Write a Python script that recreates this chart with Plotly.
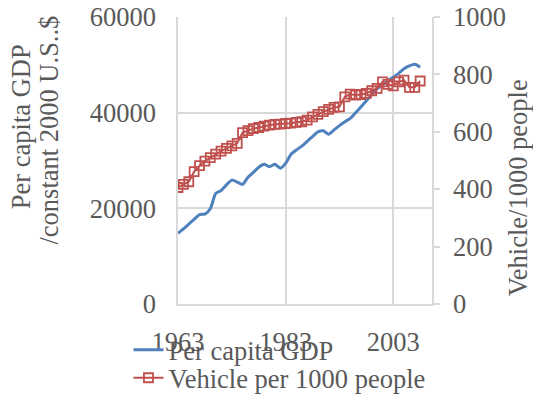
import plotly.graph_objects as go

years = list(range(1963, 2009))

gdp_per_capita = [
    14770, 15700, 16700, 17700, 18700, 18800, 19900, 23100, 23700, 24900,
    25900, 25500, 25000, 26500, 27500, 28600, 29200, 28700, 29200, 28400,
    29400, 31300, 32200, 33000, 34000, 35000, 36000, 36200, 35500, 36400,
    37300, 38100, 38800, 40000, 41200, 42500, 43800, 45000, 45800, 46700,
    47400, 48200, 49200, 49800, 50100, 49500,
]

vehicles_per_1000 = [
    406, 417, 426, 461, 482, 498, 510, 522, 533, 542,
    551, 560, 597, 604, 611, 615, 620, 623, 626, 627,
    629, 630, 633, 635, 641, 652, 661, 670, 678, 685,
    687, 722, 731, 728, 730, 734, 743, 751, 774, 765,
    760, 774, 780, 755, 755, 777,
]

x_ticks = [1963, 1983, 2003]
left_ticks = [0, 20000, 40000, 60000]
right_ticks = [0, 200, 400, 600, 800, 1000]

FONT = "Liberation Serif"
SIZE = 26.5
TEXT = "#595959"
GRID = "#d9d9d9"

fig = go.Figure()

fig.add_trace(go.Scatter(
    x=years, y=gdp_per_capita, name="Per capita GDP",
    mode="lines", line=dict(color="#4F81BD", width=3, shape="spline", smoothing=0.6),
    legend="legend",
))

fig.add_trace(go.Scatter(
    x=years, y=vehicles_per_1000, name="Vehicle per 1000 people",
    mode="lines+markers", yaxis="y2",
    line=dict(color="#C0504D", width=2),
    marker=dict(symbol="square-open", size=9, color="#C0504D", line=dict(width=1.8)),
    legend="legend2",
))

legend_style = dict(
    xanchor="left", yanchor="middle", orientation="v",
    bgcolor="rgba(0,0,0,0)", font=dict(family=FONT, size=SIZE, color=TEXT),
    itemwidth=30,
)

fig.update_layout(
    width=533, height=394,
    margin=dict(l=178, r=101, t=17, b=90, autoexpand=False),
    paper_bgcolor="white", plot_bgcolor="white",
    font=dict(family=FONT, size=SIZE, color=TEXT),
    showlegend=True,
    legend=dict(x=-0.195, y=-0.16, **legend_style),
    legend2=dict(x=-0.195, y=-0.258, **legend_style),
    xaxis=dict(
        range=[1963, 2010.2], tickvals=x_ticks,
        showgrid=True, gridcolor=GRID, gridwidth=1.5,
        showline=True, linecolor=GRID, linewidth=1.5,
        ticks="", ticklabelstandoff=13, zeroline=False,
    ),
    yaxis=dict(
        range=[0, 60000], tickvals=left_ticks, tickformat="d",
        showgrid=True, gridcolor=GRID, gridwidth=1.5,
        showline=True, linecolor=GRID, linewidth=1.5,
        ticks="", ticklabelstandoff=15, zeroline=False,
    ),
    yaxis2=dict(
        range=[0, 1000], tickvals=right_ticks, overlaying="y", side="right",
        showgrid=False, showline=True, linecolor=GRID, linewidth=1.5,
        ticks="outside", ticklen=6, tickcolor=GRID, tickwidth=1.5,
        ticklabelstandoff=8, zeroline=False,
    ),
)

title_font = dict(family=FONT, size=SIZE, color=TEXT)
fig.add_annotation(
    text="Per capita GDP", textangle=-90, xref="paper", yref="paper",
    x=-0.617, y=0.617, showarrow=False, font=title_font,
    xanchor="center", yanchor="middle",
)
fig.add_annotation(
    text="/constant 2000 U.S..$", textangle=-90, xref="paper", yref="paper",
    x=-0.506, y=0.606, showarrow=False, font=title_font,
    xanchor="center", yanchor="middle",
)
fig.add_annotation(
    text="Vehicle/1000 people", textangle=-90, xref="paper", yref="paper",
    x=1.40, y=0.405, showarrow=False, font=title_font, borderpad=0,
    xanchor="right", yanchor="middle",
)

fig.write_html("out.html")
